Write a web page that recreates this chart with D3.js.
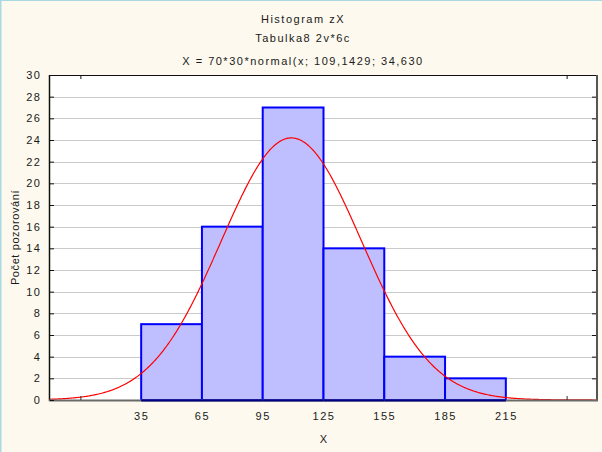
<!DOCTYPE html>
<html>
<head>
<meta charset="utf-8">
<script src="https://cdn.jsdelivr.net/npm/d3@7"></script>
<style>
  html, body { margin: 0; padding: 0; background: #FDF9EE; }
  svg { display: block; }
  text { font-family: "Liberation Sans", Arial, sans-serif; fill: #1a1a1a; }
</style>
</head>
<body>
<svg id="chart" width="602" height="452"></svg>
<script>
// ---- data ----
const binStarts = [35, 65, 95, 125, 155, 185];
const binEnds   = [65, 95, 125, 155, 185, 215];
const counts    = [7, 16, 27, 14, 4, 2];
const xTickLabels = [35, 65, 95, 125, 155, 185, 215];
const xMinorTicks = [5, 245];
const yTicks = [0, 2, 4, 6, 8, 10, 12, 14, 16, 18, 20, 22, 24, 26, 28, 30];
// fitted normal curve parameters as printed in the title: 70*30*normal(x; 109,1429; 34,630)
const fitN = [70];
const fitWidth = [30];
const fitMean = [109.1429];
const fitSd = [34.630];
const titleLines = ["Histogram zX", "Tabulka8 2v*6c", "X = 70*30*normal(x; 109,1429; 34,630"];

const svg = d3.select("#chart");
const W = 602, H = 452;
const L = 50, R = 597, T = 75, B = 400;

// background + light blue border
svg.append("rect").attr("x", 0).attr("y", 0).attr("width", W).attr("height", H).attr("fill", "#FDF9EE");
svg.append("line").attr("x1", 0.5).attr("x2", 0.5).attr("y1", 0).attr("y2", H).attr("stroke", "#ABD9E3").attr("stroke-width", 2);
svg.append("line").attr("x1", 0).attr("x2", W).attr("y1", 0.5).attr("y2", 0.5).attr("stroke", "#ABD9E3").attr("stroke-width", 1);

const x = d3.scaleLinear().domain([-10, 260]).range([L, R]);
const y = d3.scaleLinear().domain([0, 30]).range([B, T]);

// plot area
svg.append("rect").attr("x", L).attr("y", T).attr("width", R - L).attr("height", B - T).attr("fill", "#ffffff");

// gridlines
svg.append("g").selectAll("line").data(yTicks.filter(d => d > 0 && d < 30)).join("line")
  .attr("x1", L).attr("x2", R)
  .attr("y1", d => Math.round(y(d)) + 0.5).attr("y2", d => Math.round(y(d)) + 0.5)
  .attr("stroke", "#CACACA").attr("stroke-width", 1);

// bars
const bins = binStarts.map((s, i) => ({ x0: s, x1: binEnds[i], n: counts[i] }));
svg.append("g").selectAll("rect").data(bins).join("rect")
  .attr("x", d => x(d.x0)).attr("width", d => x(d.x1) - x(d.x0))
  .attr("y", d => y(d.n)).attr("height", d => y(0) - y(d.n))
  .attr("fill", "#BFBFFF").attr("stroke", "#0000FF").attr("stroke-width", 2);

// normal curve
const pdf = v => fitN[0] * fitWidth[0] * Math.exp(-0.5 * Math.pow((v - fitMean[0]) / fitSd[0], 2)) / (fitSd[0] * Math.sqrt(2 * Math.PI));
const xs = d3.range(-10, 260.5, 0.5);
svg.append("path").datum(xs)
  .attr("d", d3.line().x(d => x(d)).y(d => y(pdf(d))))
  .attr("fill", "none").attr("stroke", "#FF0000").attr("stroke-width", 1.2);

// frame
svg.append("line").attr("x1", L - 1).attr("x2", R + 1).attr("y1", T + 0.5).attr("y2", T + 0.5).attr("stroke", "#111").attr("stroke-width", 1);
svg.append("line").attr("x1", R).attr("x2", R).attr("y1", T).attr("y2", B + 1).attr("stroke", "#555").attr("stroke-width", 2);
svg.append("line").attr("x1", L - 0.5).attr("x2", L - 0.5).attr("y1", T).attr("y2", B + 1).attr("stroke", "#111").attr("stroke-width", 1.5);
// bottom axis line
svg.append("line").attr("x1", L - 1).attr("x2", R + 1).attr("y1", B + 0.5).attr("y2", B + 0.5).attr("stroke", "#6a6a6a").attr("stroke-width", 2);
// bar bottoms dark navy
svg.append("g").selectAll("line").data(bins).join("line")
  .attr("x1", d => x(d.x0)).attr("x2", d => x(d.x1)).attr("y1", B + 0.5).attr("y2", B + 0.5)
  .attr("stroke", "#000080").attr("stroke-width", 2);

// y axis (left) with inward ticks
const yAxis = d3.axisLeft(y).tickValues(yTicks).tickSizeInner(-4).tickSizeOuter(0).tickPadding(9);
const gy = svg.append("g").attr("transform", `translate(${L},0)`).call(yAxis);
gy.select(".domain").remove();
gy.selectAll(".tick line").attr("stroke", "#111");
gy.selectAll("text").attr("font-size", 11).attr("letter-spacing", 1.2).attr("fill", "#1a1a1a")
  .style("font-family", "'Liberation Sans', Arial, sans-serif");

// right axis ticks inward
const yAxisR = d3.axisRight(y).tickValues(yTicks.filter(d => d > 0 && d < 30)).tickSize(-4).tickFormat("");
const gyr = svg.append("g").attr("transform", `translate(${R - 1},0)`).call(yAxisR);
gyr.select(".domain").remove();
gyr.selectAll(".tick line").attr("stroke", "#111");

// x axis labels
const xAxis = d3.axisBottom(x).tickValues(xTickLabels).tickSize(0).tickPadding(12);
const gx = svg.append("g").attr("transform", `translate(0,${B})`).call(xAxis);
gx.select(".domain").remove();
gx.selectAll("text").attr("font-size", 11).attr("letter-spacing", 1.5).attr("fill", "#1a1a1a")
  .style("font-family", "'Liberation Sans', Arial, sans-serif");

// unlabeled x ticks (bottom, up) and top (down)
const gxm = svg.append("g").attr("transform", `translate(0,${B})`)
  .call(d3.axisBottom(x).tickValues(xMinorTicks).tickSize(-4).tickFormat(""));
gxm.select(".domain").remove();
gxm.selectAll(".tick line").attr("stroke", "#333");
const gxt = svg.append("g").attr("transform", `translate(0,${T})`)
  .call(d3.axisTop(x).tickValues(xMinorTicks).tickSize(-4).tickFormat(""));
gxt.select(".domain").remove();
gxt.selectAll(".tick line").attr("stroke", "#111");

// axis titles
svg.append("text").attr("x", x(125)).attr("y", 443).attr("text-anchor", "middle")
  .attr("font-size", 11).text("X");
svg.append("text").attr("transform", `translate(19,${(T + B) / 2}) rotate(-90)`)
  .attr("text-anchor", "middle").attr("font-size", 11).attr("letter-spacing", 0.6).text("Počet pozorování");

// titles
svg.append("defs").append("clipPath").attr("id", "clip2")
  .append("rect").attr("x", 0).attr("y", 25).attr("width", 358).attr("height", 25);
const titleY = [22.5, 42, 64.5];
const titleX = [303, 303, 303];
titleLines.forEach((t, i) => {
  const el = svg.append("text").attr("x", titleX[i]).attr("y", titleY[i]).attr("text-anchor", "middle")
    .attr("font-size", 11).attr("letter-spacing", 1.5).text(t);
  if (i === 1) el.attr("clip-path", "url(#clip2)");
});
</script>
</body>
</html>
